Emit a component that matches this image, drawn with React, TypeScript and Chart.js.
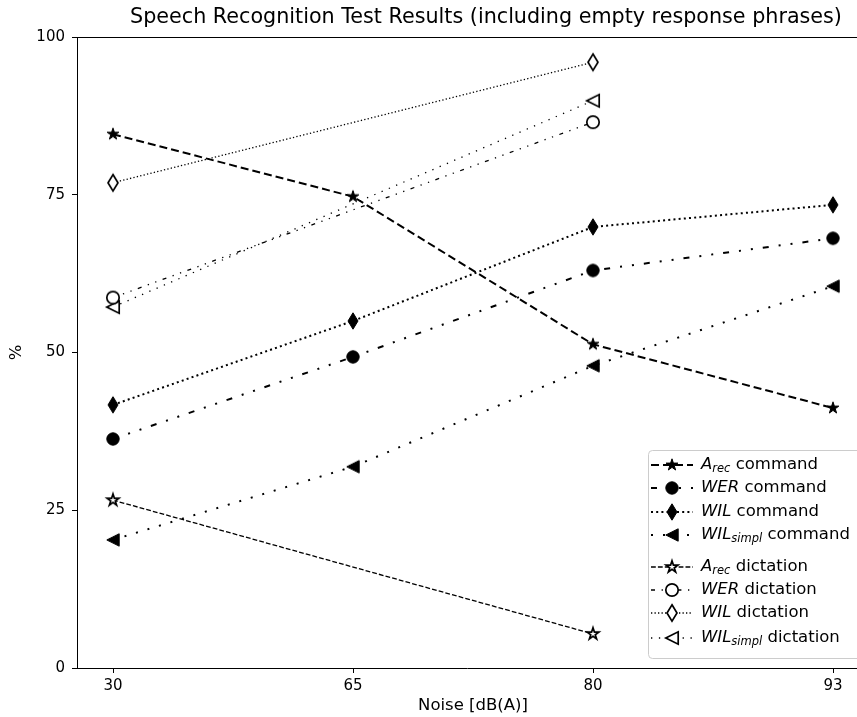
import React, { useEffect, useRef } from 'react';
import { Chart, registerables } from 'chart.js';
Chart.register(...registerables);

// ---- data ----
const noiseLevels = ['30', '65', '80', '93'];
const yTicks = [0, 25, 50, 75, 100];
const aRecCommand = [84.6, 74.7, 51.3, 41.2];
const werCommand = [36.3, 49.3, 63.0, 68.1];
const wilCommand = [41.7, 55.0, 69.9, 73.4];
const wilSimplCommand = [20.3, 31.9, 47.9, 60.5];
const aRecDictation = [26.6, null, 5.4, null];
const werDictation = [58.7, null, 86.5, null];
const wilDictation = [76.9, null, 96.0, null];
const wilSimplDictation = [57.2, null, 89.9, null];

const symbols = ['A', 'WER', 'WIL', 'WIL', 'A', 'WER', 'WIL', 'WIL'];
const subscripts = ['rec', '', '', 'simpl', 'rec', '', '', 'simpl'];
const conditions = ['command', 'command', 'command', 'command', 'dictation', 'dictation', 'dictation', 'dictation'];

const titleText = 'Speech Recognition Test Results (including empty response phrases)';
const xTitle = 'Noise [dB(A)]';
const yTitle = '%';

type Shape = 'star' | 'circle' | 'thinDiamond' | 'triangleLeft';

function makeMarker(shape: Shape, filled: boolean): HTMLCanvasElement {
  const size = 22;
  const c = document.createElement('canvas');
  c.width = size;
  c.height = size;
  const ctx = c.getContext('2d')!;
  const cx = size / 2, cy = size / 2;
  ctx.beginPath();
  if (shape === 'star') {
    const R = 6.2, r = R * 0.382;
    for (let i = 0; i < 10; i++) {
      const ang = -Math.PI / 2 + (i * Math.PI) / 5;
      const rad = i % 2 === 0 ? R : r;
      const x = cx + rad * Math.cos(ang), y = cy + rad * Math.sin(ang);
      if (i === 0) ctx.moveTo(x, y); else ctx.lineTo(x, y);
    }
    ctx.closePath();
  } else if (shape === 'circle') {
    ctx.arc(cx, cy, 6.2, 0, Math.PI * 2);
  } else if (shape === 'thinDiamond') {
    ctx.moveTo(cx, cy - 8.2);
    ctx.lineTo(cx + 5, cy);
    ctx.lineTo(cx, cy + 8.2);
    ctx.lineTo(cx - 5, cy);
    ctx.closePath();
  } else {
    ctx.moveTo(cx - 6.2, cy);
    ctx.lineTo(cx + 6.2, cy - 6.2);
    ctx.lineTo(cx + 6.2, cy + 6.2);
    ctx.closePath();
  }
  ctx.fillStyle = filled ? '#000' : '#fff';
  ctx.fill();
  ctx.lineWidth = filled ? 1 : 1.7;
  ctx.strokeStyle = '#000';
  ctx.lineJoin = 'miter';
  ctx.stroke();
  return c;
}

const specs: { data: (number | null)[]; shape: Shape; filled: boolean; dash: number[]; width: number }[] = [
  { data: aRecCommand, shape: 'star', filled: true, dash: [8, 4], width: 2 },
  { data: werCommand, shape: 'circle', filled: true, dash: [6, 10, 2, 10, 2, 10], width: 2 },
  { data: wilCommand, shape: 'thinDiamond', filled: true, dash: [2, 3.2], width: 2 },
  { data: wilSimplCommand, shape: 'triangleLeft', filled: true, dash: [2, 10], width: 2 },
  { data: aRecDictation, shape: 'star', filled: false, dash: [4.8, 2.1], width: 1.3 },
  { data: werDictation, shape: 'circle', filled: false, dash: [4, 6.6, 1.3, 6.6, 1.3, 6.6], width: 1.3 },
  { data: wilDictation, shape: 'thinDiamond', filled: false, dash: [1.3, 2.2], width: 1.3 },
  { data: wilSimplDictation, shape: 'triangleLeft', filled: false, dash: [1.3, 6.6], width: 1.3 },
];

const FONT = 'DejaVu Sans';

export default function App() {
  const ref = useRef<HTMLCanvasElement | null>(null);
  useEffect(() => {
    if (!ref.current) return;
    const markers = specs.map((s) => makeMarker(s.shape, s.filled));
    const datasets = specs.map((s, k) => ({
      label: symbols[k] + subscripts[k] + ' ' + conditions[k],
      data: s.data.map((v, i) => ({ x: i, y: v })),
      borderColor: '#000',
      backgroundColor: '#000',
      borderWidth: s.width,
      borderDash: s.dash,
      borderCapStyle: 'butt' as const,
      pointStyle: markers[k],
      pointRadius: 6,
      pointHoverRadius: 6,
      spanGaps: true,
      tension: 0,
      fill: false,
      clip: false as any,
      order: k,
    }));

    const framePlugin = {
      id: 'frameAndText',
      afterDraw(chart: any) {
        const ctx = chart.ctx as CanvasRenderingContext2D;
        const ca = chart.chartArea;
        const xs = chart.scales.x;
        ctx.save();
        // top spine
        ctx.strokeStyle = '#000';
        ctx.lineWidth = 1;
        ctx.setLineDash([]);
        ctx.beginPath();
        ctx.moveTo(ca.left, Math.round(ca.top) + 0.5);
        ctx.lineTo(ca.right, Math.round(ca.top) + 0.5);
        ctx.stroke();
        // title, centred on the full axes span (which runs past the canvas edge)
        const axesCenter = (xs.getPixelForValue(-0.15) + xs.getPixelForValue(3.15)) / 2;
        ctx.fillStyle = '#000';
        ctx.font = `20.7px "${FONT}"`;
        ctx.textAlign = 'center';
        ctx.textBaseline = 'middle';
        ctx.fillText(titleText, axesCenter + 13, 18);
        // axis titles
        ctx.font = `16.5px "${FONT}"`;
        ctx.fillText(xTitle, axesCenter, 706);
        ctx.save();
        ctx.translate(17, (ca.top + ca.bottom) / 2);
        ctx.rotate(-Math.PI / 2);
        ctx.fillText(yTitle, 0, 0);
        ctx.restore();

        // legend
        const lx = 648, ly = 450, lw = 240, lh = 208;
        ctx.beginPath();
        (ctx as any).roundRect(lx + 0.5, ly + 0.5, lw, lh, 4);
        ctx.fillStyle = 'rgba(255,255,255,0.8)';
        ctx.fill();
        ctx.strokeStyle = '#cccccc';
        ctx.lineWidth = 1;
        ctx.stroke();
        const rows = [465, 488, 512, 535, 567, 590, 613, 638];
        specs.forEach((s, k) => {
          const y = rows[k];
          ctx.strokeStyle = '#000';
          ctx.lineWidth = s.width;
          ctx.setLineDash(s.dash);
          ctx.lineCap = 'butt';
          ctx.beginPath();
          ctx.moveTo(651, y);
          ctx.lineTo(693, y);
          ctx.stroke();
          ctx.setLineDash([]);
          const m = markers[k];
          ctx.drawImage(m, 672 - m.width / 2, y - m.height / 2);
          let x = 701;
          ctx.fillStyle = '#000';
          ctx.textAlign = 'left';
          ctx.textBaseline = 'middle';
          ctx.font = `italic 16.5px "${FONT}"`;
          ctx.fillText(symbols[k], x, y);
          x += ctx.measureText(symbols[k]).width;
          if (subscripts[k]) {
            ctx.font = `italic 11.5px "${FONT}"`;
            ctx.fillText(subscripts[k], x, y + 4.5);
            x += ctx.measureText(subscripts[k]).width;
          }
          ctx.font = `16.5px "${FONT}"`;
          ctx.fillText(' ' + conditions[k], x, y);
        });
        ctx.restore();
      },
    };

    const tickFont = { family: FONT, size: 15 };
    const chart = new Chart(ref.current, {
      type: 'line',
      data: { datasets } as any,
      plugins: [framePlugin],
      options: {
        responsive: false,
        animation: false,
        layout: { autoPadding: false, padding: { top: 37, left: 0, right: 0, bottom: 0 } },
        plugins: {
          legend: { display: false },
          title: { display: false },
          tooltip: { enabled: false },
        },
        scales: {
          x: {
            type: 'linear',
            min: -0.15,
            max: 3.1,
            afterBuildTicks: (s: any) => {
              s.ticks = noiseLevels.map((_, i) => ({ value: i }));
            },
            afterFit: (s: any) => {
              s.height = 49;
              s.paddingLeft = 0;
              s.paddingRight = 0;
            },
            ticks: {
              callback: (v: any) => noiseLevels[v as number] ?? '',
              font: tickFont,
              color: '#000',
              padding: 4,
              maxRotation: 0,
              autoSkip: false,
            },
            grid: { drawOnChartArea: false, drawTicks: true, tickLength: 5, color: '#000' },
            border: { display: true, color: '#000', width: 1 },
            title: { display: false },
          },
          y: {
            type: 'linear',
            min: 0,
            max: 100,
            afterBuildTicks: (s: any) => {
              s.ticks = yTicks.map((v) => ({ value: v }));
            },
            afterFit: (s: any) => {
              s.width = 77;
              s.paddingTop = 0;
              s.paddingBottom = 0;
            },
            ticks: { font: tickFont, color: '#000', padding: 7 },
            grid: { drawOnChartArea: false, drawTicks: true, tickLength: 5, color: '#000' },
            border: { display: true, color: '#000', width: 1 },
            title: { display: false },
          },
        },
      } as any,
    });
    return () => chart.destroy();
  }, []);
  return (
    <div style={{ position: 'absolute', left: 0, top: 0, width: 857, height: 717, background: '#fff' }}>
      <canvas ref={ref} width={857} height={717} style={{ display: 'block' }} />
    </div>
  );
}
